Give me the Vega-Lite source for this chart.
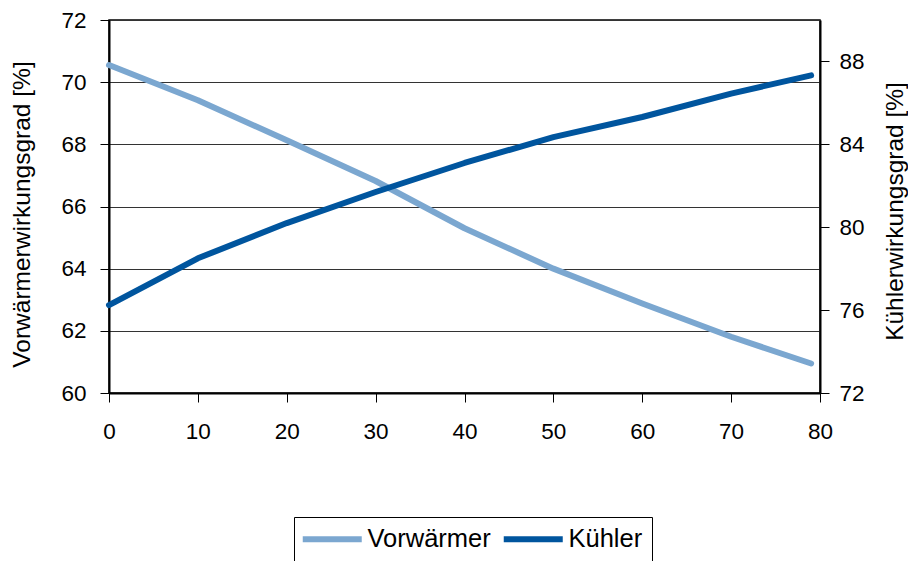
{
  "$schema": "https://vega.github.io/schema/vega-lite/v6.json",
  "autosize": {"type": "none"},
  "padding": {"left": 109, "top": 20, "right": 88, "bottom": 168},
  "width": 711,
  "height": 373,
  "background": "white",
  "config": {
    "font": "Liberation Sans",
    "view": {"stroke": "#000", "strokeWidth": 1.5},
    "axis": {
      "labelFont": "Liberation Sans",
      "titleFont": "Liberation Sans",
      "labelFontSize": 22.5,
      "titleFontSize": 24.5,
      "titleFontWeight": "normal",
      "labelColor": "#000",
      "titleColor": "#000",
      "domainColor": "#000",
      "domainWidth": 2,
      "tickColor": "#000",
      "tickWidth": 1,
      "tickSize": 9
    }
  },
  "data": {
    "values": [
      {"x": 0, "series": "Vorwärmer", "value": 70.55},
      {"x": 10, "series": "Vorwärmer", "value": 69.42},
      {"x": 20, "series": "Vorwärmer", "value": 68.13},
      {"x": 30, "series": "Vorwärmer", "value": 66.82},
      {"x": 40, "series": "Vorwärmer", "value": 65.3},
      {"x": 50, "series": "Vorwärmer", "value": 64.0},
      {"x": 60, "series": "Vorwärmer", "value": 62.88},
      {"x": 70, "series": "Vorwärmer", "value": 61.81},
      {"x": 79, "series": "Vorwärmer", "value": 60.95},
      {"x": 0, "series": "Kühler", "value": 76.24},
      {"x": 10, "series": "Kühler", "value": 78.5},
      {"x": 20, "series": "Kühler", "value": 80.2},
      {"x": 30, "series": "Kühler", "value": 81.7},
      {"x": 40, "series": "Kühler", "value": 83.1},
      {"x": 50, "series": "Kühler", "value": 84.35},
      {"x": 60, "series": "Kühler", "value": 85.32},
      {"x": 70, "series": "Kühler", "value": 86.45},
      {"x": 79, "series": "Kühler", "value": 87.33}
    ]
  },
  "encoding": {
    "x": {
      "field": "x",
      "type": "quantitative",
      "scale": {"domain": [0, 80], "nice": false},
      "axis": {"values": [0, 10, 20, 30, 40, 50, 60, 70, 80], "grid": false, "title": null, "labelPadding": 18, "labelFlush": false}
    },
    "color": {
      "field": "series",
      "type": "nominal",
      "scale": {"domain": ["Vorwärmer", "Kühler"], "range": ["#7BA7D0", "#00559E"]},
      "legend": {
        "title": null,
        "orient": "none",
        "legendX": 185,
        "legendY": 497,
        "direction": "horizontal",
        "symbolType": "M-2.6,0H9.2",
        "symbolSize": 100,
        "symbolStrokeWidth": 6,
        "symbolFillColor": "transparent",
        "labelFont": "Liberation Sans",
        "labelFontSize": 25.5,
        "labelColor": "#000",
        "labelOffset": 39,
        "columnPadding": 0,
        "strokeColor": "#000",
        "padding": 9,
        "fillColor": "white"
      }
    }
  },
  "layer": [
    {
      "transform": [{"filter": "datum.series === 'Vorwärmer'"}],
      "mark": {"type": "line", "strokeWidth": 6, "strokeCap": "round", "strokeJoin": "round"},
      "encoding": {
        "y": {
          "field": "value",
          "type": "quantitative",
          "scale": {"domain": [60, 72], "nice": false, "zero": false},
          "axis": {
            "orient": "left",
            "values": [60, 62, 64, 66, 68, 70, 72],
            "grid": true,
            "gridColor": "#333",
            "gridWidth": 1.2,
            "gridOpacity": 1,
            "title": "Vorwärmerwirkungsgrad [%]",
            "titleX": -87,
            "titleY": 194,
            "titleAngle": 270,
            "titleAlign": "center",
            "titleBaseline": "middle",
            "labelPadding": 14
          }
        }
      }
    },
    {
      "transform": [{"filter": "datum.series === 'Kühler'"}],
      "mark": {"type": "line", "strokeWidth": 6, "strokeCap": "round", "strokeJoin": "round"},
      "encoding": {
        "y": {
          "field": "value",
          "type": "quantitative",
          "scale": {"domain": [72, 90], "nice": false, "zero": false},
          "axis": {
            "orient": "right",
            "values": [72, 76, 80, 84, 88],
            "grid": false,
            "title": "Kühlerwirkungsgrad [%]",
            "titleX": 75,
            "titleY": 191,
            "titleAngle": 270,
            "titleAlign": "center",
            "titleBaseline": "middle",
            "labelPadding": 10
          }
        }
      }
    }
  ],
  "resolve": {"scale": {"y": "independent"}}
}
